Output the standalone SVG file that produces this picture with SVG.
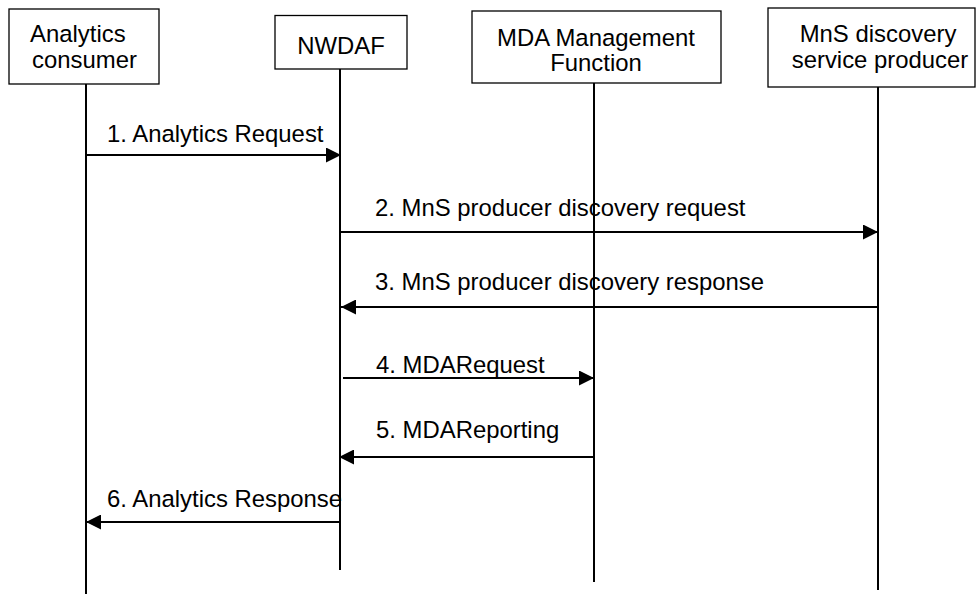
<svg xmlns="http://www.w3.org/2000/svg" width="977" height="594" viewBox="0 0 977 594">
<style>
.box{fill:#fff;stroke:#000;stroke-width:1.3}
.life{stroke:#000;stroke-width:2;fill:none}
.msg{stroke:#000;stroke-width:2;fill:none;marker-end:url(#ah)}
text{font-family:"Liberation Sans",Arial,sans-serif;font-size:23.9px;fill:#000}
.c{text-anchor:middle}
</style>
<defs>
<marker id="ah" markerUnits="userSpaceOnUse" markerWidth="15" markerHeight="15" refX="15" refY="7.5" orient="auto">
<path d="M0,0 L15,7.5 L0,15 z" fill="#000"/>
</marker>
</defs>
<g id="consumer">
<rect class="box" x="9" y="9" width="150" height="75"/>
<text x="30" y="41.7">Analytics</text>
<text x="32" y="68.3">consumer</text>
<line class="life" x1="86" y1="84" x2="86" y2="594"/>
</g>
<g id="nwdaf">
<rect class="box" x="275" y="15.5" width="132" height="53.5"/>
<text class="c" x="341" y="54">NWDAF</text>
<line class="life" x1="340" y1="69" x2="340" y2="570"/>
</g>
<g id="mda">
<rect class="box" x="472" y="11" width="249" height="72"/>
<text class="c" x="596" y="46">MDA Management</text>
<text class="c" x="596" y="71">Function</text>
<line class="life" x1="594" y1="83" x2="594" y2="582"/>
</g>
<g id="mns">
<rect class="box" x="768" y="8" width="207" height="79"/>
<text class="c" x="878" y="41.7">MnS discovery</text>
<text class="c" x="880" y="68.3">service producer</text>
<line class="life" x1="878" y1="87" x2="878" y2="590"/>
</g>
<g id="connectors">
<line class="msg" x1="86" y1="155" x2="341" y2="155"/>
<text x="107" y="141.5">1. Analytics Request</text>
<line class="msg" x1="340" y1="232" x2="878" y2="232"/>
<text x="375" y="215.5">2. MnS producer discovery request</text>
<line class="msg" x1="878" y1="307" x2="341" y2="307"/>
<text x="375" y="290">3. MnS producer discovery response</text>
<line class="msg" x1="343" y1="378" x2="594" y2="378"/>
<text x="376" y="373">4. MDARequest</text>
<line class="msg" x1="594" y1="457" x2="339" y2="457"/>
<text x="376" y="438">5. MDAReporting</text>
<line class="msg" x1="340" y1="522" x2="86" y2="522"/>
<text x="107" y="507">6. Analytics Response</text>
</g>
</svg>
